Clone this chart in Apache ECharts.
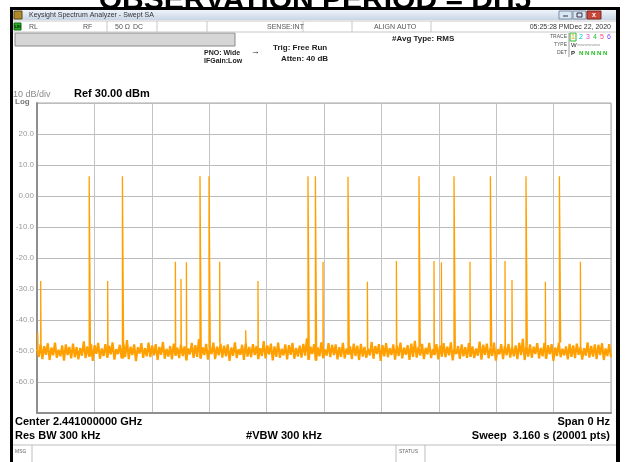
<!DOCTYPE html>
<html><head><meta charset="utf-8">
<script src="https://cdn.jsdelivr.net/npm/echarts@6/dist/echarts.min.js"></script>
<style>html,body{margin:0;padding:0;background:#fff}#c{width:628px;height:462px}</style>
</head><body><div id="c"></div>
<script>
// ---- data ----
const yTickValues = [20, 10, 0, -10, -20, -30, -40, -50, -60];
const yTickLabels = ['20.0', '10.0', '0.00', '-10.0', '-20.0', '-30.0', '-40.0', '-50.0', '-60.0'];
// spike positions (sweep point index of 20001) and peak levels (dBm)
const spikeIdx = [24, 129, 1819, 2463, 2976, 4822, 5017, 5206, 5679, 5993, 6366, 7272, 7700, 9442, 9700, 9965, 10836, 11512, 12523, 13310, 13833, 14091, 14530, 15087, 15798, 16307, 16550, 17038, 17714, 18202, 18934];
const spikePeak = [-44, -27.4, 6.4, -27.4, 6.4, -21.2, -26.8, -21.4, 6.4, 6.4, -21.2, -43.3, -27.4, 6.4, 6.4, -21.2, 6.2, -27.7, -21, 6.4, -21, -21.4, 6.4, -21.2, 6.4, -21, -27.1, 6.4, -27.7, 6.4, -21.2];
// noise floor (dBm), evenly spread across the sweep
const noise = [
-49.3,-51.9,-47.8,-52.6,-48.4,-51.2,-47.5,-52.9,-48.9,-51.4,-47.3,-52.2,-49.6,-51.7,-48.2,-53.1,-47.9,-51.3,-48.7,-52.4,
-47.6,-52.0,-48.8,-52.7,-49.0,-51.5,-46.9,-52.3,-48.5,-51.8,-47.7,-53.2,-48.1,-50.9,-47.4,-52.5,-49.2,-51.6,-47.8,-52.1,
-48.3,-51.1,-47.2,-52.8,-49.4,-51.0,-48.0,-52.4,-47.6,-51.9,-46.5,-52.6,-48.6,-51.3,-47.9,-53.3,-48.8,-50.8,-47.5,-52.2,
-49.1,-51.7,-47.3,-52.0,-48.2,-51.4,-47.8,-52.9,-48.7,-51.2,-47.1,-52.5,-49.3,-51.8,-48.4,-52.7,-47.6,-51.5,-48.9,-52.3,
-47.9,-51.6,-48.5,-53.0,-49.2,-51.1,-47.4,-52.2,-48.1,-51.9,-46.2,-52.4,-48.8,-51.3,-47.7,-52.8,-49.0,-51.0,-47.3,-52.6,
-48.6,-51.4,-47.6,-52.1,-48.3,-51.7,-47.9,-53.2,-48.9,-51.5,-47.2,-52.3,-49.4,-51.2,-48.0,-52.9,-47.5,-51.8,-48.7,-52.0,
-47.8,-51.3,-48.4,-52.6,-49.1,-51.6,-46.8,-52.4,-48.2,-51.1,-47.6,-53.0,-48.5,-51.9,-47.3,-52.2,-49.3,-51.4,-47.9,-52.7,
-48.1,-51.2,-47.4,-52.5,-49.0,-51.8,-48.3,-52.1,-47.7,-51.5,-45.9,-52.8,-48.6,-51.0,-47.8,-53.1,-48.9,-51.7,-47.2,-52.3,
-49.5,-51.5,-47.5,-52.0,-48.0,-51.3,-47.9,-52.7,-48.8,-51.9,-47.4,-52.4,-49.2,-51.1,-48.5,-52.6,-47.6,-51.6,-48.3,-52.9,
-47.7,-51.8,-48.7,-52.2,-49.3,-51.4,-47.1,-52.5,-48.4,-51.0,-47.8,-53.2,-48.1,-51.7,-47.5,-52.0,-49.1,-51.3,-47.9,-52.8,
-48.2,-51.6,-47.3,-52.4,-48.9,-51.2,-48.1,-52.9,-47.6,-51.9,-46.7,-52.1,-48.7,-51.5,-47.7,-52.6,-49.0,-51.1,-47.4,-52.3,
-49.4,-51.3,-47.8,-52.7,-48.3,-51.8,-47.5,-52.0,-48.6,-51.4,-47.2,-53.0,-49.1,-51.0,-48.4,-52.5,-47.9,-51.7,-48.8,-52.2,
-47.5,-51.9,-48.5,-52.3,-49.2,-51.5,-47.0,-52.8,-48.0,-51.2,-47.6,-52.4,-48.9,-51.6,-47.3,-53.1,-49.4,-51.1,-47.8,-52.6,
-48.4,-51.4,-47.7,-52.1,-48.7,-51.7,-48.2,-52.6,-47.4,-51.3,-46.1,-52.9,-48.3,-51.8,-47.9,-52.2,-48.6,-51.0,-47.5,-52.4,
-49.0,-51.7,-47.4,-52.5,-48.1,-51.1,-47.8,-53.2,-48.9,-51.6,-47.3,-52.0,-49.3,-51.4,-48.5,-52.7,-47.7,-51.9,-48.2,-52.3,
-47.6,-51.2,-48.8,-52.8,-49.1,-51.5,-47.2,-52.1,-48.4,-51.8,-47.9,-52.6,-48.0,-51.3,-47.5,-52.9,-49.2,-51.6,-47.8,-52.0
];
const sweepPoints = 20000;

// ---- build trace ----
const step = sweepPoints / (noise.length - 1);
const noisePts = noise.map((v, i) => [i * step, v]);
const spikePts = [];
spikeIdx.forEach((x, k) => {
  const b = noise[Math.min(noise.length - 1, Math.round(x / step))];
  const w = spikePeak[k] > 0 ? 45 : 12;
  spikePts.push([x, b], [x, spikePeak[k]], [x + w, spikePeak[k]], [x + w, b], [x + w, '-']);
});

const F = 'Liberation Sans, Arial, sans-serif';
const TS = (x, y, text, o) => ({type: 'text', x: x, y: y, z: 10, style: Object.assign({text: text, font: '8px ' + F, fill: '#222', textVerticalAlign: 'middle'}, o || {})});
const R = (x, y, w, h, fill, stroke, lw) => ({type: 'rect', z: 5, shape: {x: x, y: y, width: w, height: h}, style: {fill: fill, stroke: stroke || null, lineWidth: lw || 1}});
const L = (x1, y1, x2, y2, c, w) => ({type: 'line', z: 6, shape: {x1: x1, y1: y1, x2: x2, y2: y2}, style: {stroke: c, lineWidth: w || 1}});

const graphics = [
  // window frame
  R(10, 7, 609, 3, '#000'),
  R(10, 7, 3, 455, '#000'),
  R(616, 7, 4, 455, '#000'),
  // big title (cut off at top)
  Object.assign(TS(315, 1, 'OBSERVATION PERIOD = DH5', {font: 'bold 30px ' + F, fill: '#000', textAlign: 'center'}), {z: 20}),
  // title bar
  {type: 'rect', z: 5, shape: {x: 13, y: 10, width: 603, height: 10}, style: {fill: new echarts.graphic.LinearGradient(0, 0, 0, 1, [{offset: 0, color: '#eef3fa'}, {offset: 1, color: '#c9d6e6'}])}},
  R(14, 11, 8, 8, '#b08a2a', '#5a4a1a'),
  TS(29, 15.5, 'Keysight Spectrum Analyzer - Swept SA', {font: '7px ' + F, fill: '#333'}),
  R(559, 11, 13, 8, '#dbe6f3', '#7d8fa8'),
  L(563, 16, 568, 16, '#334', 1),
  R(573, 11, 13, 8, '#dbe6f3', '#7d8fa8'),
  R(577, 13, 5, 4, null, '#334'),
  R(587, 11, 14, 8, '#c8463a', '#7a2a22'),
  TS(594, 15, 'x', {font: 'bold 7px ' + F, fill: '#fff', textAlign: 'center'}),
  // status row
  L(13, 21, 616, 21, '#c8c8c8'),
  L(13, 32, 616, 32, '#c8c8c8'),
  R(14, 23, 7, 7, '#22b022', '#116611'),
  TS(17.5, 26.5, 'LXI', {font: 'bold 4px ' + F, fill: '#000', textAlign: 'center'}),
  TS(29, 27, 'RL', {font: '7px ' + F, fill: '#555'}),
  TS(83, 27, 'RF', {font: '7px ' + F, fill: '#555'}),
  L(107, 21, 107, 32, '#c8c8c8'),
  TS(115, 27, '50 Ω', {font: '7px ' + F, fill: '#555'}),
  TS(133, 27, 'DC', {font: '7px ' + F, fill: '#555'}),
  L(157, 21, 157, 32, '#c8c8c8'),
  L(207, 21, 207, 32, '#c8c8c8'),
  TS(267, 27, 'SENSE:INT', {font: '7px ' + F, fill: '#555'}),
  L(303, 21, 303, 32, '#c8c8c8'),
  L(352, 21, 352, 32, '#c8c8c8'),
  TS(374, 27, 'ALIGN AUTO', {font: '7px ' + F, fill: '#555'}),
  L(431, 21, 431, 32, '#c8c8c8'),
  TS(611, 27, '05:25:28 PMDec 22, 2020', {font: '7px ' + F, fill: '#333', textAlign: 'right'}),
  // grey bar
  R(15, 33, 220, 13, '#d6d6d6', '#8a8a8a'),
  // settings
  TS(204, 53, 'PNO: Wide', {font: 'bold 7px ' + F, fill: '#222'}),
  TS(204, 61, 'IFGain:Low', {font: 'bold 7px ' + F, fill: '#222'}),
  TS(251, 52, '→', {font: 'bold 9px ' + F, fill: '#222'}),
  TS(273, 48, 'Trig: Free Run', {font: 'bold 8px ' + F, fill: '#222'}),
  TS(281, 59, 'Atten: 40 dB', {font: 'bold 8px ' + F, fill: '#222'}),
  TS(392, 39, '#Avg Type: RMS', {font: 'bold 8px ' + F, fill: '#222'}),
  // trace block
  L(569, 33, 569, 57, '#999'),
  TS(567, 37, 'TRACE', {font: '5px ' + F, fill: '#555', textAlign: 'right'}),
  TS(567, 45, 'TYPE', {font: '5px ' + F, fill: '#555', textAlign: 'right'}),
  TS(567, 53, 'DET', {font: '5px ' + F, fill: '#555', textAlign: 'right'}),
  R(570, 33, 6, 8, null, '#22c022'),
  TS(573, 37, '1', {font: '7px ' + F, fill: '#e0a000', textAlign: 'center'}),
  TS(581, 37, '2', {font: '7px ' + F, fill: '#00c0e0', textAlign: 'center'}),
  TS(588, 37, '3', {font: '7px ' + F, fill: '#e040d0', textAlign: 'center'}),
  TS(595, 37, '4', {font: '7px ' + F, fill: '#20c030', textAlign: 'center'}),
  TS(602, 37, '5', {font: '7px ' + F, fill: '#ff4070', textAlign: 'center'}),
  TS(609, 37, '6', {font: '7px ' + F, fill: '#8040ff', textAlign: 'center'}),
  TS(571, 45, 'W', {font: '6px ' + F, fill: '#222'}),
  TS(577, 45, 'wwwwwwww', {font: '4px ' + F, fill: '#999'}),
  TS(571, 53, 'P', {font: 'bold 6px ' + F, fill: '#222'}),
  TS(579, 53, 'N N N N N', {font: 'bold 6px ' + F, fill: '#22c022'}),
  // scale annotations
  TS(13, 95, '10 dB/div', {font: '9px ' + F, fill: '#8a8a8a'}),
  TS(15, 101.5, 'Log', {font: 'bold 8px ' + F, fill: '#777'}),
  TS(74, 94, 'Ref 30.00 dBm', {font: 'bold 11px ' + F, fill: '#000'}),
  // bottom annotations
  TS(15, 422, 'Center 2.441000000 GHz', {font: 'bold 11px ' + F, fill: '#000'}),
  TS(15, 436, 'Res BW 300 kHz', {font: 'bold 11px ' + F, fill: '#000'}),
  TS(284, 436, '#VBW 300 kHz', {font: 'bold 11px ' + F, fill: '#000', textAlign: 'center'}),
  TS(610, 422, 'Span 0 Hz', {font: 'bold 11px ' + F, fill: '#000', textAlign: 'right'}),
  TS(610, 436, 'Sweep  3.160 s (20001 pts)', {font: 'bold 11px ' + F, fill: '#000', textAlign: 'right'}),
  // bottom status row
  L(13, 445, 616, 445, '#bdbdbd'),
  L(32, 445, 32, 462, '#bdbdbd'),
  L(396, 445, 396, 462, '#bdbdbd'),
  L(425, 445, 425, 462, '#bdbdbd'),
  TS(15, 452, 'MSG', {font: '5px ' + F, fill: '#666'}),
  TS(399, 452, 'STATUS', {font: '5px ' + F, fill: '#666'})
];

const chart = echarts.init(document.getElementById('c'), null, {renderer: 'canvas'});
chart.setOption({
  animation: false,
  backgroundColor: '#fff',
  grid: {left: 37, top: 103, width: 574, height: 310, show: true, borderColor: '#a8a8a8', borderWidth: 1, backgroundColor: 'transparent'},
  xAxis: {
    type: 'value', min: 0, max: sweepPoints, interval: 2000,
    axisLabel: {show: false}, axisTick: {show: false},
    axisLine: {show: true, onZero: false, lineStyle: {color: '#8f8f8f', width: 2}},
    splitLine: {show: true, lineStyle: {color: '#c4c4c4', width: 1}}
  },
  yAxis: {
    type: 'value', min: -70, max: 30, interval: 10,
    axisTick: {show: false},
    axisLine: {show: true, lineStyle: {color: '#8f8f8f', width: 2}},
    splitLine: {show: true, lineStyle: {color: '#bcbcbc', width: 1}},
    axisLabel: {
      color: '#9a9a9a', fontSize: 8, fontFamily: F, margin: 3,
      formatter: v => { const k = yTickValues.indexOf(v); return k >= 0 ? yTickLabels[k] : ''; }
    }
  },
  series: [{
    type: 'line', data: noisePts, showSymbol: false, symbol: 'none', sampling: null,
    lineStyle: {color: '#ffa000', width: 2.2, join: 'bevel'}, z: 3, silent: true
  }, {
    type: 'line', data: spikePts, showSymbol: false, symbol: 'none', sampling: null, connectNulls: false,
    lineStyle: {color: '#ffa000', width: 1.3}, z: 4, silent: true
  }],
  graphic: graphics
});
</script></body></html>
